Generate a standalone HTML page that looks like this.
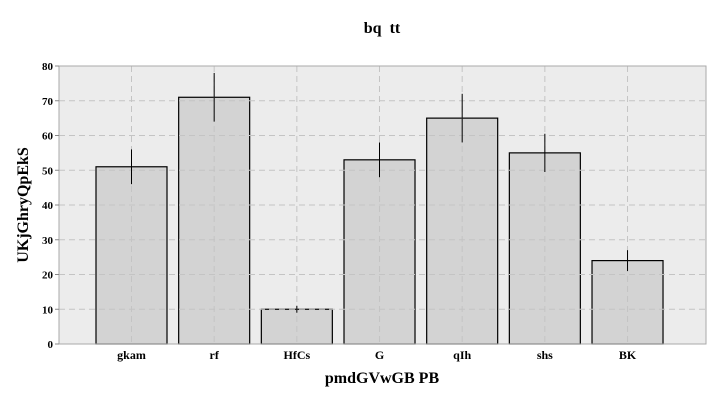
<!DOCTYPE html>
<html><head><meta charset="utf-8"><style>
body{margin:0;background:#fff;}
svg text{font-family:"Liberation Serif","DejaVu Serif",serif;font-weight:bold;}
</style></head><body>
<svg id="chart" width="720" height="400" xmlns="http://www.w3.org/2000/svg">
<text x="382" y="33" text-anchor="middle" font-size="16" style="white-space:pre">bq  tt</text>
<rect x="59" y="66" width="647" height="278" fill="#ececec"/>
<g id="bars"></g>
<g id="grid"></g>
<g id="errs"></g>
<rect x="59" y="66" width="647" height="278" fill="none" stroke="#aaa" stroke-width="1"/>
<g id="axes"></g>
<text x="382" y="383" text-anchor="middle" font-size="16">pmdGVwGB PB</text>
<text transform="translate(28,205) rotate(-90)" text-anchor="middle" font-size="16">UKjGhryQpEkS</text>
</svg>
<script>
const categories=["gkam","rf","HfCs","G","qIh","shs","BK"];
const values=[51,71,10,53,65,55,24];
const errors=[5,7,1,5,7,5.5,3];
const yTicks=[0,10,20,30,40,50,60,70,80];
const NS="http://www.w3.org/2000/svg";
const L=59,R=706,T=66,B=344,yMax=80;
const y=v=>B-(v/yMax)*(B-T);
const x=i=>131.5+i*82.67;
const bw=71;
function mk(tag,attrs,parent){const e=document.createElementNS(NS,tag);for(const k in attrs)e.setAttribute(k,attrs[k]);document.getElementById(parent).appendChild(e);return e;}
categories.forEach((c,i)=>{
 const r=mk('rect',{x:x(i)-bw/2,y:y(values[i]),width:bw,height:B-y(values[i]),fill:'#d3d3d3',stroke:'#000','stroke-width':1.2},'bars');
 
 
 const e=mk('line',{x1:x(i),x2:x(i),y1:y(values[i]-errors[i]),y2:y(values[i]+errors[i]),stroke:'#000','stroke-width':1},'errs');
 
 
 const g=mk('line',{x1:x(i),x2:x(i),y1:T,y2:B,stroke:'#c4c4c4','stroke-dasharray':'6,4','stroke-width':1},'grid');
 
 
 const t=mk('text',{x:x(i),y:359,'text-anchor':'middle','font-size':12},'axes');
 t.textContent=c;
 
 
});
yTicks.forEach(v=>{
 if(v>0&&v<yMax){const g=mk('line',{x1:L,x2:R,y1:y(v),y2:y(v),stroke:'#c4c4c4','stroke-dasharray':'6,4','stroke-width':1},'grid');
 
 }
 const tk=mk('line',{x1:L-4,x2:L,y1:y(v),y2:y(v),stroke:'#888'},'axes');
 
 
 const t=mk('text',{x:L-6,y:y(v)+4,'text-anchor':'end','font-size':11},'axes');
 t.textContent=v;
 
 
});
</script>
</body></html>
